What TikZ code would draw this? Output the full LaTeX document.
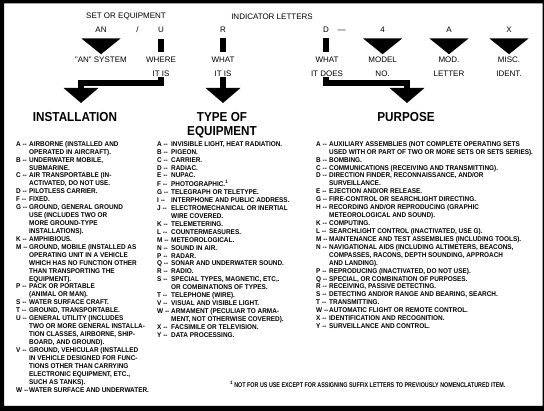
\documentclass[tikz,border=0pt]{standalone}
\usepackage{fontspec}
\usepackage{graphicx}
\setmainfont{Liberation Sans}
\newfontfamily\codefont[FakeStretch=0.93]{Liberation Sans}
\newfontfamily\headfont[FakeStretch=0.9]{Liberation Sans}

\begin{document}
\begin{tikzpicture}[x=1pt,y=-1pt,
    tag/.style={inner sep=0pt,font=\fontsize{8}{13.5}\selectfont,align=center},
    heading/.style={inner sep=0pt,anchor=north,font=\headfont\bfseries\fontsize{13}{13.5}\selectfont,align=center},
    column/.style={inner sep=0pt,anchor=north west,font=\codefont\bfseries\fontsize{6.9}{7.93}\selectfont},
    bar/.style={line width=6pt,line join=miter}]
        \useasboundingbox (0,0) rectangle (544,411);
        \fill[even odd rule] (0,0) rectangle (544,411) (4,3.5) rectangle (542.5,406);

        % letters of the designation
        \node[tag] (setequip) at (126,16.4) {SET OR EQUIPMENT};
        \node[tag] (indlet) at (272,16.4) {INDICATOR LETTERS};

        \node[tag,anchor=base] (an) at (101,32.5) {AN};
        \node[tag,anchor=base] (slash) at (137.6,32.5) {/};
        \node[tag,anchor=base] (u) at (161,32.5) {U};
        \node[tag,anchor=base] (r) at (223,32.5) {R};
        \node[tag,anchor=base] (d) at (326,32.5) {D};
        \node[tag,anchor=base] (dash) at (341.5,32.5) {---};
        \node[tag,anchor=base] (four) at (382.6,32.5) {4};
        \node[tag,anchor=base] (a) at (449,32.5) {A};
        \node[tag,anchor=base] (x) at (509,32.5) {X};

        \node[tag,anchor=north] (ansys) at (101,57) {"AN" SYSTEM};
        \node[tag,anchor=north] (whereu) at (161,57) {WHERE\\IT IS};
        \node[tag,anchor=north] (whatr) at (223,57) {WHAT\\IT IS};
        \node[tag,anchor=north] (whatd) at (327,57) {WHAT\\IT DOES};
        \node[tag,anchor=north] (model) at (382.6,57) {MODEL\\NO.};
        \node[tag,anchor=north] (modlet) at (449,57) {MOD.\\LETTER};
        \node[tag,anchor=north] (miscid) at (509,57) {MISC.\\IDENT.};

        \foreach \n in {an,four,a,x}
          \fill ([yshift=-5.8pt]\n.south) ++(-19.5,0) -- ++(39,0) -- ++(-19.5,15.7) -- cycle;
        \foreach \n/\m in {u/whereu,r/whatr,d/whatd}
          \draw[bar] ([yshift=-5.8pt]\n.south) -- ([yshift=5pt]\n |- \m.north);

        % arrows down to the three tables
        \coordinate (insttip) at (81,88);
        \coordinate (typetip) at (223,88);
        \coordinate (purptip) at (407,88);
        \draw[bar] ([yshift=-1pt]u |- whereu.south) -- ++(0,6) -| (insttip);
        \draw[bar] ([yshift=-1pt]r |- whatr.south) -- (typetip);
        \draw[bar] ([yshift=-1pt]d |- whatd.south) -- ++(0,6) -| (purptip);
        \foreach \t in {insttip,typetip,purptip}
          \fill (\t) ++(-17.5,0) -- ++(35,0) -- ++(-17.5,15) -- cycle;

        \node[heading] (install) at (75,112.4) {INSTALLATION};
        \node[heading] (typeeq) at (222,112.4) {TYPE OF\\EQUIPMENT};
        \node[heading] (purpose) at (406,112.4) {PURPOSE};

        \node[column] (instcol) at (16,140.5) {\begin{tabular}{@{}p{13pt}@{}l@{}}
          A -{}- & AIRBORNE (INSTALLED AND\\
                 & OPERATED IN AIRCRAFT).\\
          B -{}- & UNDERWATER MOBILE,\\
                 & SUBMARINE.\\
          C -{}- & AIR TRANSPORTABLE (IN-\\
                 & ACTIVATED, DO NOT USE.\\
          D -{}- & PILOTLESS CARRIER.\\
          F -{}- & FIXED.\\
          G -{}- & GROUND, GENERAL GROUND\\
                 & USE (INCLUDES TWO OR\\
                 & MORE GROUND-TYPE\\
                 & INSTALLATIONS).\\
          K -{}- & AMPHIBIOUS.\\
          M -{}- & GROUND, MOBILE (INSTALLED AS\\
                 & OPERATING UNIT IN A VEHICLE\\
                 & WHICH HAS NO FUNCTION OTHER\\
                 & THAN TRANSPORTING THE\\
                 & EQUIPMENT).\\
          P -{}- & PACK OR PORTABLE\\
                 & (ANIMAL OR MAN).\\
          S -{}- & WATER SURFACE CRAFT.\\
          T -{}- & GROUND, TRANSPORTABLE.\\
          U -{}- & GENERAL UTILITY (INCLUDES\\
                 & TWO OR MORE GENERAL INSTALLA-\\
                 & TION CLASSES, AIRBORNE, SHIP-\\
                 & BOARD, AND GROUND).\\
          V -{}- & GROUND, VEHICULAR (INSTALLED\\
                 & IN VEHICLE DESIGNED FOR FUNC-\\
                 & TIONS OTHER THAN CARRYING\\
                 & ELECTRONIC EQUIPMENT, ETC.,\\
                 & SUCH AS TANKS).\\
          W -{}- & WATER SURFACE AND UNDERWATER.
        \end{tabular}};

        \node[column] (typecol) at (157,140.5) {\begin{tabular}{@{}p{14pt}@{}l@{}}
          A -{}- & INVISIBLE LIGHT, HEAT RADIATION.\\
          B -{}- & PIGEON.\\
          C -{}- & CARRIER.\\
          D -{}- & RADIAC.\\
          E -{}- & NUPAC.\\
          F -{}- & PHOTOGRAPHIC.\textsuperscript{1}\\
          G -{}- & TELEGRAPH OR TELETYPE.\\
          I -{}- & INTERPHONE AND PUBLIC ADDRESS.\\
          J -{}- & ELECTROMECHANICAL OR INERTIAL\\
                 & WIRE COVERED.\\
          K -{}- & TELEMETERING.\\
          L -{}- & COUNTERMEASURES.\\
          M -{}- & METEOROLOGICAL.\\
          N -{}- & SOUND IN AIR.\\
          P -{}- & RADAR.\\
          Q -{}- & SONAR AND UNDERWATER SOUND.\\
          R -{}- & RADIO.\\
          S -{}- & SPECIAL TYPES, MAGNETIC, ETC,.\\
                 & OR COMBINATIONS OF TYPES.\\
          T -{}- & TELEPHONE (WIRE).\\
          V -{}- & VISUAL AND VISIBLE LIGHT.\\
          W -{}- & ARMAMENT (PECULIAR TO ARMA-\\
                 & MENT, NOT OTHERWISE COVERED).\\
          X -{}- & FACSIMILE OR TELEVISION.\\
          Y -{}- & DATA PROCESSING.
        \end{tabular}};

        \node[column] (purpcol) at (316,140.5) {\begin{tabular}{@{}p{13pt}@{}l@{}}
          A -{}- & AUXILIARY ASSEMBLIES (NOT COMPLETE OPERATING SETS\\
                 & USED WITH OR PART OF TWO OR MORE SETS OR SETS SERIES).\\
          B -{}- & BOMBING.\\
          C -{}- & COMMUNICATIONS (RECEIVING AND TRANSMITTING).\\
          D -{}- & DIRECTION FINDER, RECONNAISSANCE, AND/OR\\
                 & SURVEILLANCE.\\
          E -{}- & EJECTION AND/OR RELEASE.\\
          G -{}- & FIRE-CONTROL OR SEARCHLIGHT DIRECTING.\\
          H -{}- & RECORDING AND/OR REPRODUCING (GRAPHIC\\
                 & METEOROLOGICAL AND SOUND).\\
          K -{}- & COMPUTING.\\
          L -{}- & SEARCHLIGHT CONTROL (INACTIVATED, USE G).\\
          M -{}- & MAINTENANCE AND TEST ASSEMBLIES (INCLUDING TOOLS).\\
          N -{}- & NAVIGATIONAL AIDS (INCLUDING ALTIMETERS, BEACONS,\\
                 & COMPASSES, RACONS, DEPTH SOUNDING, APPROACH\\
                 & AND LANDING).\\
          P -{}- & REPRODUCING (INACTIVATED, DO NOT USE).\\
          Q -{}- & SPECIAL, OR COMBINATION OF PURPOSES.\\
          R -{}- & RECEIVING, PASSIVE DETECTING.\\
          S -{}- & DETECTING AND/OR RANGE AND BEARING, SEARCH.\\
          T -{}- & TRANSMITTING.\\
          W -{}- & AUTOMATIC FLIGHT OR REMOTE CONTROL.\\
          X -{}- & IDENTIFICATION AND RECOGNITION.\\
          Y -{}- & SURVEILLANCE AND CONTROL.
        \end{tabular}};

        \node[column,anchor=base west] (fnote) at (230,388)
          {\textsuperscript{1}\,\resizebox{271pt}{\height}{NOT FOR US USE EXCEPT FOR ASSIGNING SUFFIX LETTERS TO PREVIOUSLY NOMENCLATURED ITEM.}};
      \end{tikzpicture}
\end{document}
